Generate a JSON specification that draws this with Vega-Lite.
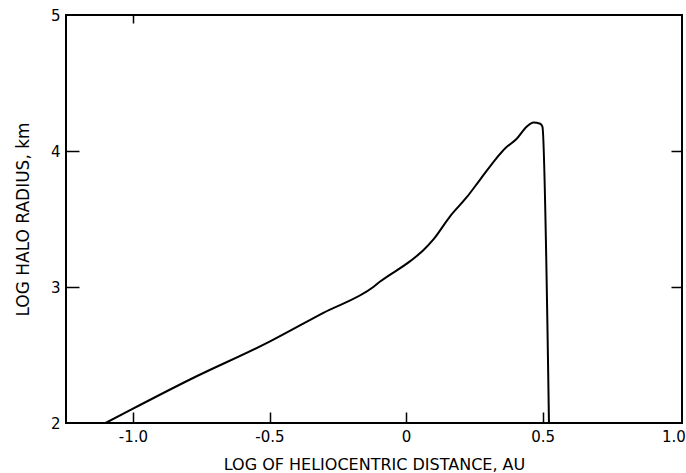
{
  "$schema": "https://vega.github.io/schema/vega-lite/v6.json",
  "width": 616,
  "height": 408,
  "autosize": {"type": "none"},
  "padding": {"left": 66, "top": 15, "right": 4, "bottom": 50},
  "background": "white",
  "config": {
    "view": {"stroke": "black", "strokeWidth": 2},
    "axis": {"labelFont": "DejaVu Sans", "titleFont": "DejaVu Sans", "labelColor": "black", "titleColor": "black", "labelFontSize": 15, "titleFontSize": 16, "titleFontWeight": "normal", "domain": false, "grid": false, "tickColor": "black", "tickWidth": 1.5}
  },
  "data": {"values": [
    {"x": -1.10, "y": 2.00},
    {"x": -1.005, "y": 2.10},
    {"x": -0.791, "y": 2.32},
    {"x": -0.498, "y": 2.60},
    {"x": -0.303, "y": 2.81},
    {"x": -0.12, "y": 3.00},
    {"x": -0.095, "y": 3.04},
    {"x": 0.015, "y": 3.19},
    {"x": 0.063, "y": 3.27},
    {"x": 0.100, "y": 3.35},
    {"x": 0.161, "y": 3.52},
    {"x": 0.222, "y": 3.66},
    {"x": 0.271, "y": 3.79},
    {"x": 0.332, "y": 3.95},
    {"x": 0.363, "y": 4.02},
    {"x": 0.405, "y": 4.09},
    {"x": 0.442, "y": 4.18},
    {"x": 0.466, "y": 4.21},
    {"x": 0.491, "y": 4.20},
    {"x": 0.499, "y": 4.18},
    {"x": 0.523, "y": 2.00}
  ]},
  "layer": [
    {
      "mark": {"type": "line", "color": "black", "strokeWidth": 2, "clip": true, "interpolate": "monotone"},
      "encoding": {
        "x": {"field": "x", "type": "quantitative", "scale": {"domain": [-1.245, 1.01], "nice": false, "zero": false},
          "axis": {"orient": "bottom", "values": [-1, -0.5, 0, 0.5, 1], "ticks": false, "labelPadding": 6,
            "labelFlush": 10, "labelFlushOffset": 6,
            "labelExpr": "datum.value == 0 ? '0' : replace(format(datum.value, '.1f'), '\u2212', '-')",
            "title": "LOG OF HELIOCENTRIC DISTANCE, AU", "titlePadding": 12}},
        "y": {"field": "y", "type": "quantitative", "scale": {"domain": [2, 5], "nice": false, "zero": false},
          "axis": {"orient": "left", "values": [2, 3, 4, 5], "ticks": false, "labelPadding": 6,
            "title": "LOG HALO RADIUS, km", "titleFontSize": 17, "titlePadding": 18}}
      }
    },
    {
      "mark": {"type": "line", "opacity": 0},
      "encoding": {
        "x": {"field": "x", "type": "quantitative", "axis": {"orient": "top", "offset": -408, "values": [-1, -0.5, 0, 0.5], "tickSize": 11, "labels": false, "title": null}},
        "y": {"field": "y", "type": "quantitative", "axis": {"orient": "right", "offset": -616, "values": [3, 4], "tickSize": 13, "labels": false, "title": null}}
      }
    },
    {
      "mark": {"type": "line", "opacity": 0},
      "encoding": {
        "x": {"field": "x", "type": "quantitative", "axis": {"orient": "bottom", "offset": -408, "values": [-1], "tickSize": 8, "labels": false, "title": null}},
        "y": {"field": "y", "type": "quantitative", "axis": {"orient": "left", "offset": -616, "values": [3, 4], "tickSize": 11, "labels": false, "title": null}}
      }
    }
  ],
  "resolve": {"axis": {"x": "independent", "y": "independent"}, "scale": {"x": "shared", "y": "shared"}}
}
